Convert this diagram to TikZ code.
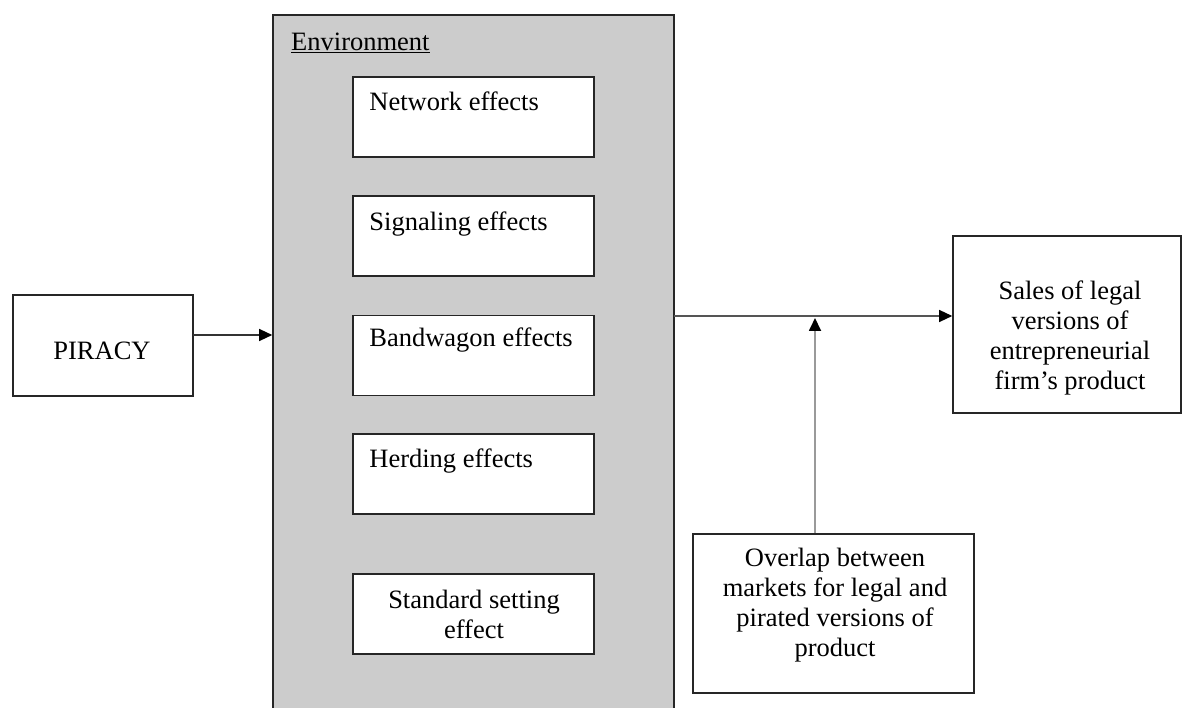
\documentclass[tikz,border=0pt]{standalone}
\usepackage{fontspec}
\setmainfont{Liberation Serif}
\usetikzlibrary{arrows.meta}
\definecolor{envgrey}{HTML}{CCCCCC}
\definecolor{linegrey}{HTML}{555555}
\definecolor{modgrey}{HTML}{9A9A9A}
\tikzset{
  boxline/.style={draw=black!85, line width=1.6pt},
  effectbox/.style={boxline, fill=white, minimum width=241pt, minimum height=80pt, inner sep=0pt},
  effecttext/.style={anchor=base west, inner sep=0pt},
  plainbox/.style={boxline, fill=white, inner sep=0pt},
  tip/.style={-{Triangle[length=13pt,width=12pt,color=black]}},
  conn/.style={line width=1.3pt, draw=linegrey},
}
\begin{document}
\begin{tikzpicture}[x=1pt,y=-1pt,font=\fontsize{26.5}{30}\selectfont]
\useasboundingbox (0,0) rectangle (1186,708);
\clip (0,0) rectangle (1186,708);

% Environment panel
\node[boxline, fill=envgrey, minimum width=401pt, minimum height=745pt, inner sep=0pt] (env) at (473.5,387.5) {};
\node[anchor=base west, inner sep=0pt] (envlabel) at (291,51) {\underline{Environment}};

% Effects inside the environment
\node[effectbox] (net)  at (473.5,117) {};
\node[effectbox] (sig)  at (473.5,236) {};
\node[effectbox] (band) at (473.5,355.5) {};
\node[effectbox] (herd) at (473.5,474) {};
\node[effectbox] (std)  at (473.5,614) {};
\node[effecttext] (nett)  at ([xshift=17pt,yshift=-34pt]net.north west)  {Network effects};
\node[effecttext] (sigt)  at ([xshift=17pt,yshift=-35pt]sig.north west)  {Signaling effects};
\node[effecttext] (bandt) at ([xshift=17pt,yshift=-32pt]band.north west) {Bandwagon effects};
\node[effecttext] (herdt) at ([xshift=17pt,yshift=-34pt]herd.north west) {Herding effects};
\node[align=center, inner sep=0pt] (stdt) at (474,614) {Standard setting\\effect};

% Cause and outcome
\node[plainbox, minimum width=180pt, minimum height=101pt] (pir) at (103,345.5) {};
\node[anchor=base, inner sep=0pt] (pirt) at (102,360) {PIRACY};

\node[plainbox, minimum width=228pt, minimum height=177pt] (sales) at (1067,324.5) {};
\node[align=center, inner sep=0pt] (salest) at (1070,338) {Sales of legal\\versions of\\entrepreneurial\\firm's product};

\node[plainbox, minimum width=281pt, minimum height=159pt] (ovl) at (833.5,613.5) {};
\node[align=center, inner sep=0pt] (ovlt) at (835,605) {Overlap between\\markets for legal and\\pirated versions of\\product};

% Connectors
\coordinate (pirout) at (193,335);
\coordinate (envout) at (674,316);
\coordinate (mod) at (815,318);

\draw[conn, draw=black!80, tip] (pirout) -- (pirout -| env.west);
\draw[conn, tip] (envout) -- (envout -| sales.west);
\draw[line width=1.8pt, draw=modgrey, tip] (mod |- ovl.north) -- (mod);
\end{tikzpicture}
\end{document}
